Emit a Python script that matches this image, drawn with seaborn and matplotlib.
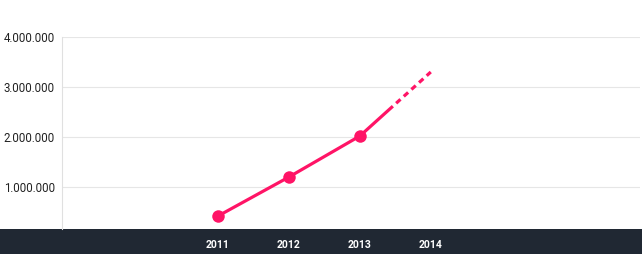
import matplotlib
matplotlib.use("Agg")
import matplotlib.pyplot as plt
import seaborn as sns
import pandas as pd
from matplotlib.ticker import FuncFormatter
from matplotlib.patches import Rectangle

years_actual = [2011, 2012, 2013]
values_actual = [420000, 1200000, 2020000]
years_proj = [2013, 2014]
values_proj = [2020000, 3300000]
tick_years = [2011, 2012, 2013, 2014]
y_ticks = [1000000, 2000000, 3000000, 4000000]

sns.set_theme(style="white")
plt.rcParams['font.family'] = ['Roboto', 'DejaVu Sans']
plt.rcParams['lines.scale_dashes'] = False

W, H = 642, 254
fig = plt.figure(figsize=(W/100, H/100), dpi=100)
ax = fig.add_axes([62/W, 1-229/H, (640-62)/W, (229-37)/H])
ax.set_zorder(2)

pink = "#ff1466"
dark = "#202833"

# dark footer band
fig.patches.append(Rectangle((0, 0), 1, (254-229)/H, transform=fig.transFigure,
                             facecolor=dark, edgecolor='none', zorder=0))

df_a = pd.DataFrame({"year": years_actual, "value": values_actual})
df_p = pd.DataFrame({"year": years_proj, "value": values_proj})

sns.lineplot(data=df_p, x="year", y="value", ax=ax, color=pink, linewidth=2.3,
             dashes=False, zorder=3)
ax.lines[-1].set_linestyle((0, (32, 3.2, 4.2, 3.2, 4.2, 3.2, 4.2, 3.2, 4.2, 3.2, 4.2, 3.2, 4.2, 3.2)))
sns.lineplot(data=df_a, x="year", y="value", ax=ax, color=pink, linewidth=2.3,
             marker="o", markersize=9, markeredgewidth=0, zorder=4)
for l in ax.lines:
    l.set_clip_on(False)

ax.set_xlim(2008.8, 2016.95)
ax.set_ylim(160000, 4000000)
ax.set_xticks(tick_years)
ax.set_xticklabels([str(y) for y in tick_years], color="white", fontsize=7.5,
                   fontweight="bold")
ax.set_yticks(y_ticks)
ax.yaxis.set_major_formatter(FuncFormatter(lambda v, p: f"{int(v):,}".replace(",", ".")))
ax.tick_params(axis='y', labelsize=8.3, labelcolor="#222222", length=0, pad=5)
ax.tick_params(axis='x', length=0, pad=8)
ax.grid(axis='y', color="#e6e6e6", linewidth=0.8)
ax.set_axisbelow(True)
for s in ["top", "right", "bottom"]:
    ax.spines[s].set_visible(False)
ax.spines["left"].set_color("#e0e0e0")
ax.spines["left"].set_linewidth(0.8)
ax.set_xlabel("")
ax.set_ylabel("")
ax.patch.set_alpha(0)

fig.savefig("out.png", dpi=100)
